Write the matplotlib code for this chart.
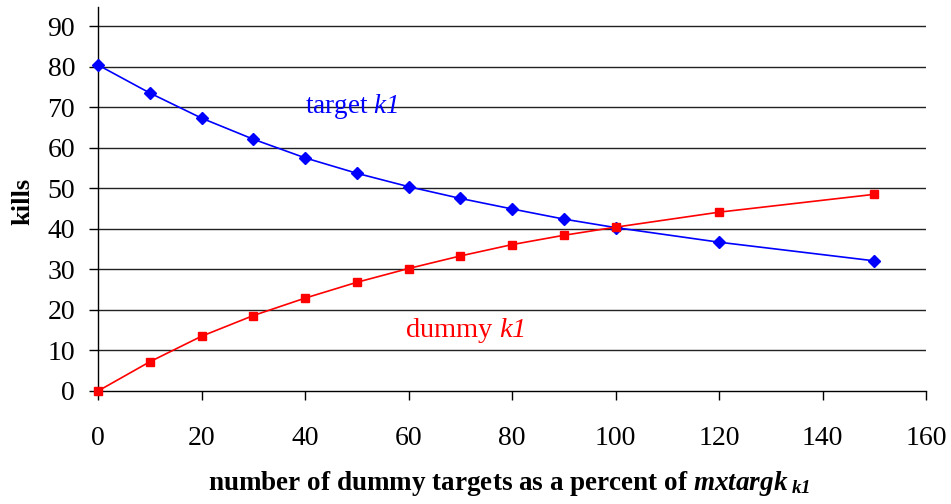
import matplotlib
matplotlib.use("Agg")
import matplotlib.pyplot as plt

plt.rcParams['font.family'] = 'Liberation Serif'
plt.rcParams['mathtext.fontset'] = 'custom'
plt.rcParams['mathtext.rm'] = 'Liberation Serif'
plt.rcParams['mathtext.it'] = 'Liberation Serif:italic'
# sf slot used for italic text with italic digits
plt.rcParams['mathtext.sf'] = 'Liberation Serif:italic'
plt.rcParams['mathtext.bf'] = 'Liberation Serif:bold'
plt.rcParams['mathtext.bfit'] = 'Liberation Serif:bold:italic'

# data
pct_dummy = [0, 10, 20, 30, 40, 50, 60, 70, 80, 90, 100, 120, 150]
target_kills = [80.4, 73.5, 67.3, 62.1, 57.5, 53.7, 50.4, 47.5, 44.9, 42.4, 40.3, 36.7, 32.1]
dummy_kills = [0.0, 7.2, 13.5, 18.6, 22.9, 26.8, 30.2, 33.3, 36.1, 38.4, 40.4, 44.1, 48.5]

xticks = [0, 20, 40, 60, 80, 100, 120, 140, 160]
yticks = [0, 10, 20, 30, 40, 50, 60, 70, 80, 90]

fig = plt.figure(figsize=(9.51, 5.04), dpi=100)
ax = fig.add_axes([98 / 951, 1 - 391 / 504, (926 - 98) / 951, (391 - 7) / 504])

# horizontal gridlines
for yv in yticks[1:]:
    ax.axhline(yv, color='#222222', linewidth=1.0, zorder=1)

ax.plot(pct_dummy, target_kills, color='#0000FF', linewidth=1.2,
        marker='D', markersize=6.5, zorder=4, clip_on=False)
ax.plot(pct_dummy, dummy_kills, color='#FF0000', linewidth=1.2,
        marker='s', markersize=6.3, zorder=4, clip_on=False)

ax.text(40, 68.5, r'target $\mathsf{k1}$', color='#0000FF', fontsize=19.5,
        ha='left', va='baseline')
ax.text(59.3, 13.3, r'dummy $\mathsf{k1}$', color='#FF0000', fontsize=20.5,
        ha='left', va='baseline')

ax.set_xlim(0, 160)
ax.set_ylim(0, 94.7)
ax.set_xticks(xticks)
ax.set_yticks(yticks)
ax.tick_params(axis='both', labelsize=20, direction='out', length=6.5,
               width=1, color='black')
ax.tick_params(axis='x', pad=19)
ax.tick_params(axis='y', pad=10)

for side in ['top', 'right']:
    ax.spines[side].set_visible(False)
for side in ['left', 'bottom']:
    ax.spines[side].set_linewidth(1.0)
    ax.spines[side].set_color('black')

fig.text(23 / 951, 1 - 201 / 504, 'kills', fontsize=19, fontweight='bold',
         rotation=90, ha='center', va='center')
fig.text(509 / 951, 1 - 490 / 504,
         r'number of dummy targets as a percent of $\mathbfit{mxtargk}_{\ \mathbfit{k1}}$',
         fontsize=19.5, fontweight='bold', ha='center', va='baseline')

fig.savefig('out.png', dpi=100)
